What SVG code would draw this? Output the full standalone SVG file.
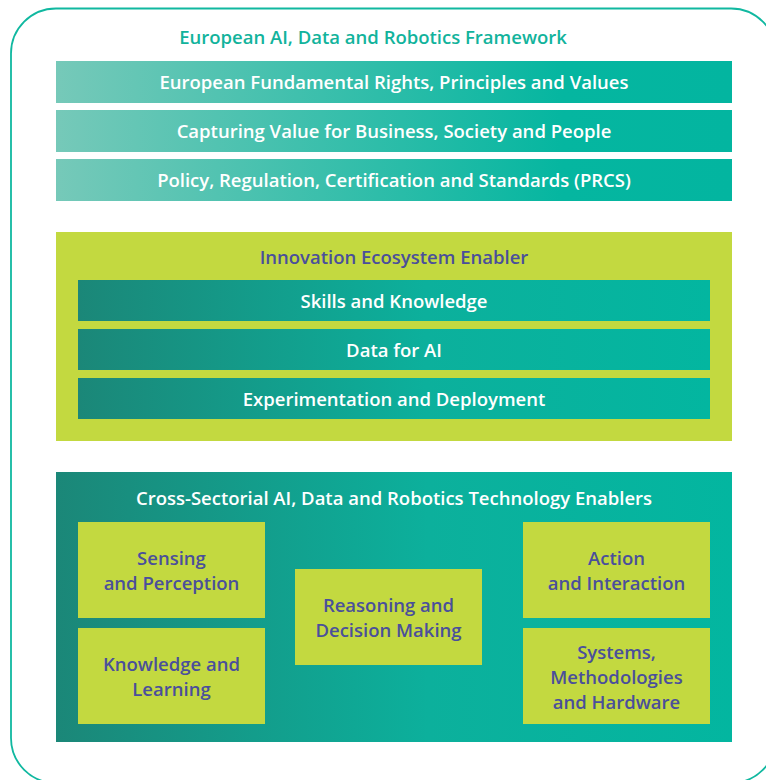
<svg xmlns="http://www.w3.org/2000/svg" width="766" height="780" viewBox="0 0 766 780">
<defs>
<linearGradient id="gTop" x1="0" y1="0" x2="1" y2="0">
<stop offset="0" stop-color="#76c9b9"/>
<stop offset="0.75" stop-color="#05b6a0"/>
<stop offset="1" stop-color="#03b5a0"/>
</linearGradient>
<linearGradient id="gDark" x1="0" y1="0" x2="1" y2="0">
<stop offset="0" stop-color="#1b8778"/>
<stop offset="0.55" stop-color="#0cb09c"/>
<stop offset="1" stop-color="#03b6a0"/>
</linearGradient>
<style>
text{font-family:"Open Sans","Liberation Sans",sans-serif;font-weight:600;font-size:18.5px;text-anchor:middle}
.w{fill:#ffffff}
.b{fill:#4a4f9b}
.t{fill:#12b39c}
.lime{fill:#c3d940}
</style>
</defs>
<rect x="11" y="8.5" width="765" height="774.5" rx="45" ry="45" fill="none" stroke="#10b8a0" stroke-width="1.8"/>
<text class="t" x="373" y="44">European AI, Data and Robotics Framework</text>
<g id="band1"><rect x="56" y="61" width="676" height="42" fill="url(#gTop)"/><text class="w" x="394" y="89">European Fundamental Rights, Principles and Values</text></g>
<g id="band2"><rect x="56" y="110" width="676" height="42" fill="url(#gTop)"/><text class="w" x="394" y="138">Capturing Value for Business, Society and People</text></g>
<g id="band3"><rect x="56" y="159" width="676" height="42" fill="url(#gTop)"/><text class="w" x="394" y="187">Policy, Regulation, Certification and Standards (PRCS)</text></g>
<g id="innovation">
<rect class="lime" x="56" y="232" width="676" height="209"/>
<text class="b" x="394" y="264">Innovation Ecosystem Enabler</text>
</g>
<g id="skills"><rect x="78" y="280" width="632" height="41" fill="url(#gDark)"/><text class="w" x="394" y="308">Skills and Knowledge</text></g>
<g id="data"><rect x="78" y="329" width="632" height="41" fill="url(#gDark)"/><text class="w" x="394" y="357">Data for AI</text></g>
<g id="experimentation"><rect x="78" y="378" width="632" height="41" fill="url(#gDark)"/><text class="w" x="394" y="406">Experimentation and Deployment</text></g>
<g id="crossSectorial">
<rect x="56" y="472" width="676" height="270" fill="url(#gDark)"/>
<text class="w" x="394" y="505">Cross-Sectorial AI, Data and Robotics Technology Enablers</text>
</g>
<g id="sensing"><rect class="lime" x="78" y="522" width="187" height="96"/><text class="b" x="171.5" y="565">Sensing</text><text class="b" x="171.5" y="590">and Perception</text></g>
<g id="knowledge"><rect class="lime" x="78" y="628" width="187" height="96"/><text class="b" x="171.5" y="671">Knowledge and</text><text class="b" x="171.5" y="696">Learning</text></g>
<g id="reasoning"><rect class="lime" x="295" y="569" width="187" height="96"/><text class="b" x="388.5" y="612">Reasoning and</text><text class="b" x="388.5" y="637">Decision Making</text></g>
<g id="action"><rect class="lime" x="523" y="522" width="187" height="96"/><text class="b" x="616.5" y="565">Action</text><text class="b" x="616.5" y="590">and Interaction</text></g>
<g id="systems"><rect class="lime" x="523" y="628" width="187" height="96"/><text class="b" x="616.5" y="659">Systems,</text><text class="b" x="616.5" y="684">Methodologies</text><text class="b" x="616.5" y="709">and Hardware</text></g>
<g id="connectors"/>
</svg>
